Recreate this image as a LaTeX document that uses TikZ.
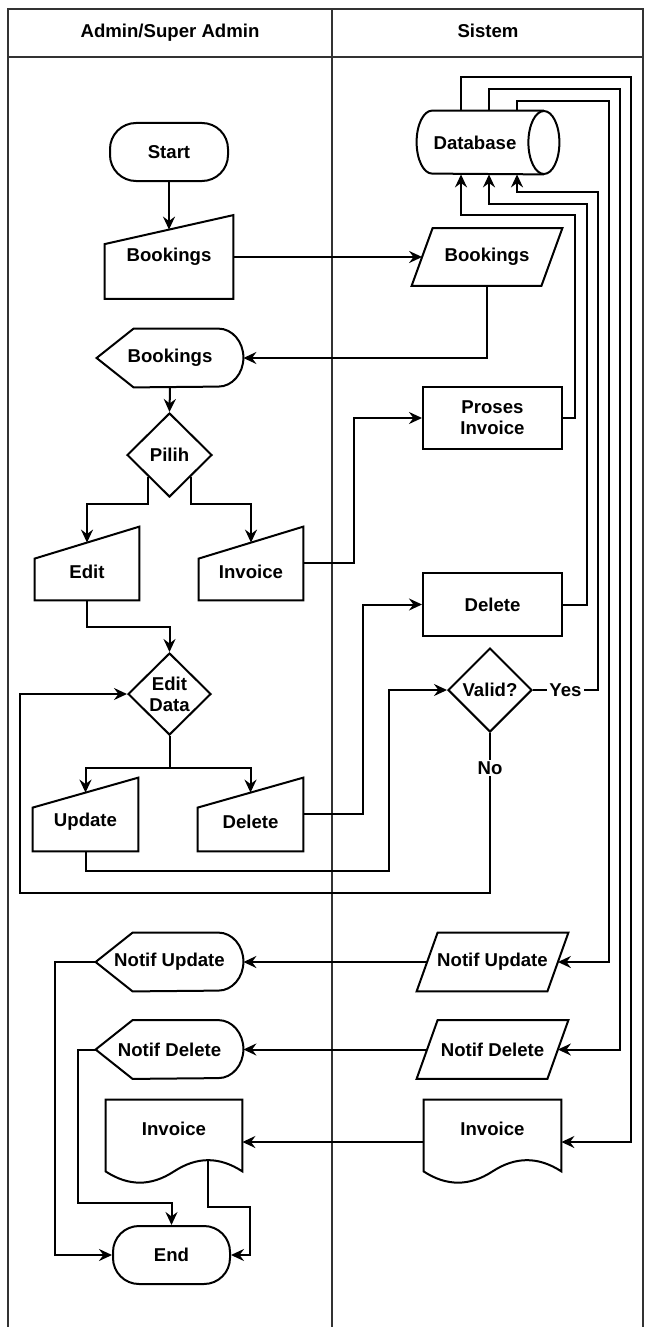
\documentclass[tikz,border=0pt]{standalone}
\usepackage{fontspec}
\setmainfont{Liberation Sans}
\usetikzlibrary{arrows.meta,calc,shapes.geometric}
\tikzset{
flowbase/.style={inner sep=0pt, align=center, font=\bfseries\fontsize{9.3}{10.5}\selectfont},
flowhead/.style={flowbase, text height=7pt, text depth=2pt},
flowsize/.style 2 args={minimum width=#1*0.5pt, minimum height=#2*0.5pt},
flowterm/.style={flowbase, draw, line width=1pt, rounded corners=13pt},
flowproc/.style={flowbase, draw, line width=1pt},
flowdec/.style={flowbase, draw, line width=1pt, diamond},
flowlabel/.style={flowbase, fill=white, inner sep=1pt},
flowshape/.style={line width=1pt, line join=miter},
flowline/.style={line width=1pt},
flowarrow/.style={flowline, -{Stealth[length=6.5pt,width=6pt,inset=2.2pt]}},
flowpool/.style={line width=1pt, draw=black!80}
}
\begin{document}
\begin{tikzpicture}[x=0.5pt, y=-0.5pt]
  \useasboundingbox (0,0) rectangle (645,1327);
  % swimlanes
  \draw[flowpool] (8,1327) -- (8,9) -- (643,9) -- (643,1327);
  \draw[flowpool] (8,57) -- (643,57);
  \draw[flowpool] (332,9) -- (332,1327);
  \node[flowhead] (headA) at (170,33) {Admin/Super Admin};
  \node[flowhead] (headS) at (488,33) {Sistem};

  % Admin/Super Admin
  \node[flowterm, flowsize={118}{58}] (start) at (169,152) {Start};
  \node[flowbase, flowsize={128}{83}] (bookIn) at (169,257) {Bookings};
  \node[flowbase, flowsize={146}{58}] (bookDisp) at (170,358) {Bookings};
  \node[flowdec, flowsize={85}{84}] (pilih) at (169.5,455) {Pilih};
  \node[flowbase, flowsize={104}{57}] (edit) at (87,571.5) {Edit};
  \node[flowbase, flowsize={104}{57}] (invM) at (251,571.5) {Invoice};
  \node[flowdec, flowsize={83}{82}] (edata) at (169.5,694) {Edit\\Data};
  \node[flowbase, flowsize={105}{58}] (upd) at (85.5,822) {Update};
  \node[flowbase, flowsize={105}{58}] (delM) at (250.5,822) {Delete};
  \node[flowbase, flowsize={147}{58}] (nuL) at (169.5,962) {Notif Update};
  \node[flowbase, flowsize={147}{58}] (ndL) at (169.5,1049.5) {Notif Delete};
  \node[flowbase, flowsize={136}{58}] (invL) at (174,1129) {Invoice};
  \node[flowterm, flowsize={117}{58}] (endn) at (171.5,1255) {End};

  % Sistem
  \node[flowbase, flowsize={116}{63}] (db) at (475,142.5) {Database};
  \node[flowbase, flowsize={129}{57}] (bookD) at (487,257) {Bookings};
  \node[flowproc, flowsize={139}{62}] (proses) at (492.5,418) {Proses\\Invoice};
  \node[flowproc, flowsize={139}{63}] (delR) at (492.5,604.5) {Delete};
  \node[flowdec, flowsize={84}{84}] (valid) at (490,690) {Valid?};
  \node[flowbase, flowsize={130}{58}] (nuR) at (492.5,962) {Notif Update};
  \node[flowbase, flowsize={130}{58}] (ndR) at (492.5,1049.5) {Notif Delete};
  \node[flowbase, flowsize={137}{58}] (invR) at (492.5,1129) {Invoice};

  % outlines
  \draw[flowshape] ($(db.north east)+(10.5,0)$) -- ($(db.north west)+(15.5,0)$)
    arc[start angle=90, end angle=270, x radius=7.75pt, y radius=15.75pt] -- ($(db.south east)+(10.5,0)$);
  \draw[flowshape] ($(db.east)+(10.5,0)$) ellipse[x radius=7.75pt, y radius=15.75pt];
  \foreach \n/\a/\b in {bookIn/0/29, edit/16/16, invM/16/16, upd/15/15, delM/15/15}
    \draw[flowshape] (\n.south west) -- (\n.south east) -- ($(\n.north east)+(0,-\a)$) -- ($(\n.north west)+(0,\b)$) -- cycle;
  \foreach \n in {bookDisp,nuL,ndL}
    \draw[flowshape] (\n.west) -- ($(\n.north west)+(37,0)$) -- ($(\n.north east)+(-25,0)$)
      arc[start angle=90, end angle=-90, x radius=12.5pt, y radius=14.5pt] -- ($(\n.south west)+(37,0)$) -- cycle;
  \foreach \n in {bookD,nuR,ndR}
    \draw[flowshape] ($(\n.south west)+(-10.5,0)$) -- ($(\n.south east)+(-10.5,0)$) -- ($(\n.north east)+(10.5,0)$) -- ($(\n.north west)+(10.5,0)$) -- cycle;
  \foreach \n in {invL,invR}
    \draw[flowshape] (\n.north west) -- (\n.north east) -- ($(\n.south east)+(0,13)$)
      .. controls ($(\n.south east)+(-23,-2)$) and ($(\n.south)+(23,-2)$) .. ($(\n.south)+(0,13)$)
      .. controls ($(\n.south)+(-23,28)$) and ($(\n.south west)+(23,28)$) .. ($(\n.south west)+(0,13)$) -- cycle;

  % flow
  \draw[flowarrow] (start.south) -- ($(bookIn.north)+(0,14.5)$);
  \draw[flowarrow] (bookIn.east) -- (bookD.west);
  \draw[flowarrow] (bookD.south) |- (bookDisp.east);
  \draw[flowarrow] (bookDisp.south) -- (pilih.north);
  \draw[flowarrow] (pilih.south west) -- ++(0,27) -| (edit.north);
  \draw[flowarrow] (pilih.south east) -- ++(0,27) -| (invM.north);
  \draw[flowarrow] (edit.south) -- ++(0,27) -| (edata.north);
  \draw[flowarrow] (edata.south) -- ++(0,32) -| (upd.north);
  \draw[flowarrow] (edata.south) -- ++(0,32) -| (delM.north);
  \draw[flowarrow] ([yshift=4.25pt]invM.east) -- ++(51,0) |- (proses.west);
  \draw[flowarrow] ([yshift=4pt]delM.east) -- ++(60,0) |- (delR.west);
  \draw[flowarrow] (upd.south) -- ++(0,20) -- ++(303.5,0) |- (valid.west);
  \draw[flowarrow] (valid.south) -- node[flowlabel] (no) {No} ++(0,70) |- (20,893) |- (edata.west);
  \draw[flowarrow] (valid.east) -- node[flowlabel] (yes) {Yes} ++(65,0) |- ([xshift=21pt,yshift=-9pt]db.south) -- ([xshift=21pt]db.south);
  \draw[flowarrow] (proses.east) -- ++(12,0) |- ([xshift=-7pt,yshift=-20.5pt]db.south) -- ([xshift=-7pt]db.south);
  \draw[flowarrow] (delR.east) -- ++(24,0) |- ([xshift=7pt,yshift=-15pt]db.south) -- ([xshift=7pt]db.south);

  % database to outputs
  \draw[flowarrow] ([xshift=-7pt]db.north) -- ++(0,-34) -- ++(170,0) |- ([yshift=-6.5pt]invR.east);
  \draw[flowarrow] ([xshift=7pt]db.north) -- ++(0,-22) -- ++(131,0) |- (ndR.east);
  \draw[flowarrow] ([xshift=21pt]db.north) -- ++(0,-10) -- ++(92,0) |- (nuR.east);
  \draw[flowarrow] (nuR.west) -- (nuL.east);
  \draw[flowarrow] (ndR.west) -- (ndL.east);
  \draw[flowarrow] ([yshift=-6.5pt]invR.west) -- ([yshift=-6.5pt]invL.east);

  % to end
  \draw[flowarrow] (nuL.west) -- ++(-41,0) |- (endn.west);
  \draw[flowarrow] (ndL.west) -- ++(-18,0) |- ([yshift=11pt]endn.north) -- (endn.north);
  \draw[flowarrow] ([xshift=17pt,yshift=-1pt]invL.south) -- ++(0,47) -- ++(42,0) |- (endn.east);
\end{tikzpicture}
\end{document}
